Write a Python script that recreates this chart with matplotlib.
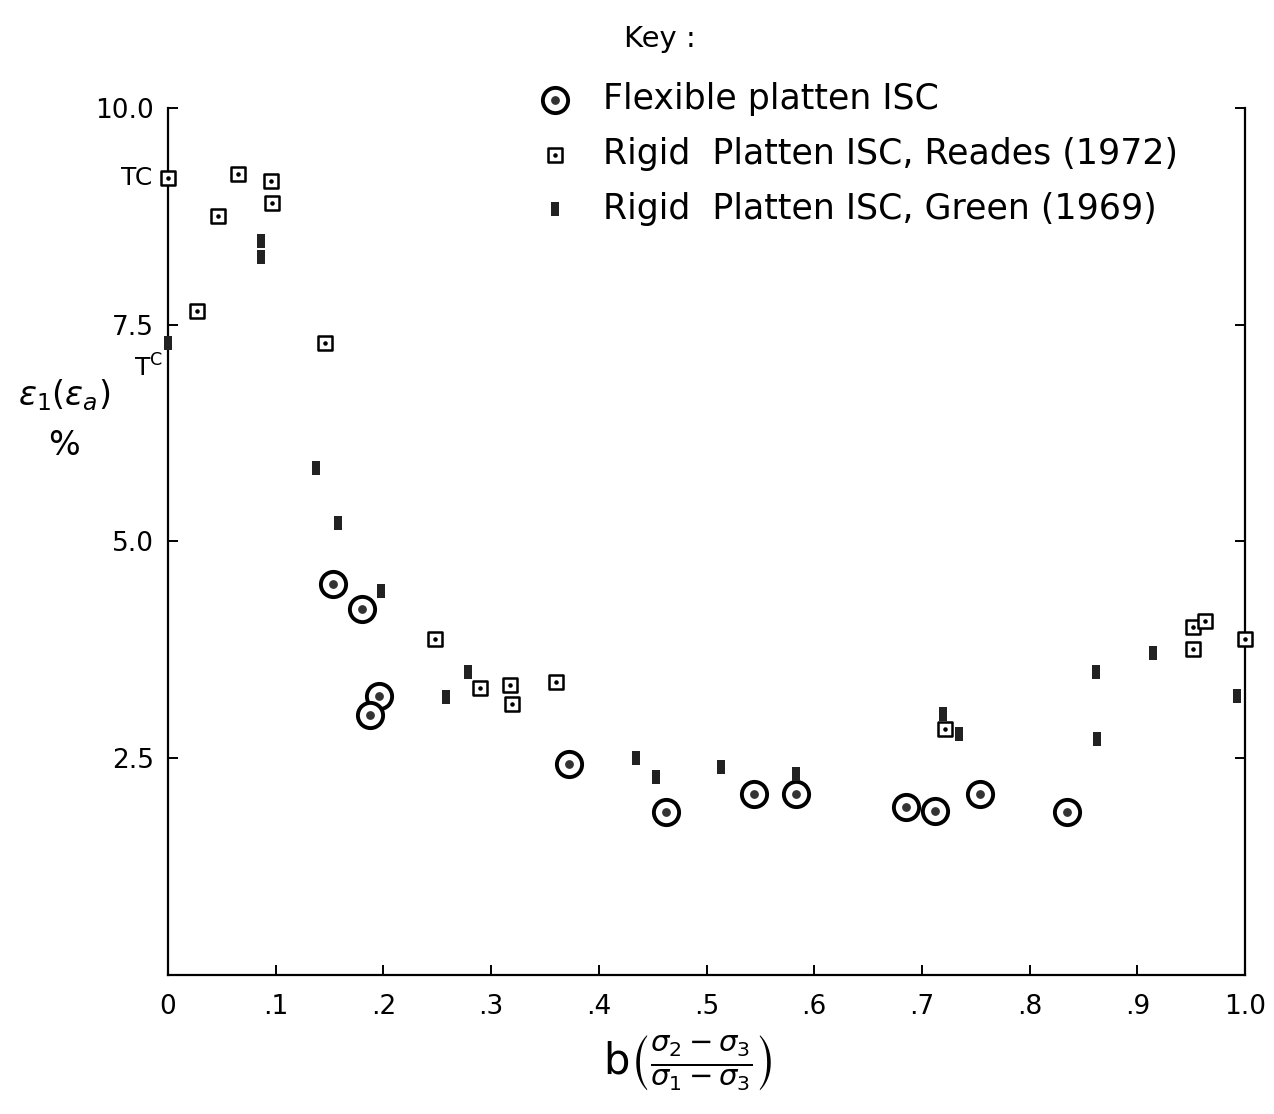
import matplotlib.pyplot as plt
from matplotlib.legend_handler import HandlerTuple

# data
flex_b = [0.153, 0.180, 0.196, 0.188, 0.372, 0.462, 0.544, 0.583, 0.685, 0.712, 0.754, 0.835]
flex_e = [4.51, 4.22, 3.22, 3.00, 2.43, 1.88, 2.09, 2.09, 1.94, 1.89, 2.09, 1.88]

reades_b = [0.0, 0.027, 0.046, 0.065, 0.096, 0.097, 0.146, 0.248, 0.290, 0.318,
            0.319, 0.360, 0.721, 0.952, 0.952, 0.963, 1.0]
reades_e = [9.19, 7.66, 8.75, 9.24, 9.16, 8.90, 7.29, 3.88, 3.31, 3.34,
            3.13, 3.38, 2.84, 3.76, 4.01, 4.08, 3.88]

green_b = [0.0, 0.086, 0.086, 0.137, 0.158, 0.198, 0.258, 0.279, 0.435, 0.453,
           0.513, 0.583, 0.720, 0.734, 0.862, 0.863, 0.915, 0.993]
green_e = [7.29, 8.47, 8.28, 5.85, 5.21, 4.43, 3.21, 3.49, 2.50, 2.28,
           2.40, 2.32, 3.01, 2.78, 3.49, 2.72, 3.71, 3.22]

xticks = [0, 0.1, 0.2, 0.3, 0.4, 0.5, 0.6, 0.7, 0.8, 0.9, 1.0]
xticklabels = ['0', '.1', '.2', '.3', '.4', '.5', '.6', '.7', '.8', '.9', '1.0']
yticks = [2.5, 5.0, 7.5, 10.0]
yticklabels = ['2.5', '5.0', '7.5', '10.0']

fig = plt.figure(figsize=(12.74, 11.14), dpi=100)
ax = fig.add_axes([168/1274, 1 - 975/1114, (1245 - 168)/1274, (975 - 108)/1114])
ax.set_xlim(0, 1.0)
ax.set_ylim(0, 10.0)

# vertical bar marker for Green (1969)
bar = [(-0.5, -1), (0.5, -1), (0.5, 1), (-0.5, 1), (-0.5, -1)]

ring = ax.scatter(flex_b, flex_e, s=330, facecolor='white', edgecolor='black',
                  linewidth=2.8, zorder=3, clip_on=False)
ring_dot = ax.scatter(flex_b, flex_e, s=28, color='#333333', zorder=4, clip_on=False)
sq = ax.scatter(reades_b, reades_e, s=110, marker='s', facecolor='white',
                edgecolor='black', linewidth=1.8, zorder=3, clip_on=False)
sq_dot = ax.scatter(reades_b, reades_e, s=5, color='black', zorder=4, clip_on=False)
gr = ax.scatter(green_b, green_e, s=110, marker=bar, color='#222222',
                linewidth=0, zorder=3, clip_on=False)

ax.spines['top'].set_visible(False)
for s in ['left', 'right', 'bottom']:
    ax.spines[s].set_linewidth(1.6)

ax.set_xticks(xticks)
ax.set_xticklabels(xticklabels)
ax.set_yticks(yticks)
ax.set_yticklabels(yticklabels)
ax.tick_params(axis='both', direction='in', length=7, width=1.4, labelsize=19)
ax.tick_params(axis='x', pad=14)
ax.tick_params(axis='y', right=True, pad=10)

ax.text(-0.015, 9.19, 'TC', ha='right', va='center', fontsize=18)
ax.text(-0.005, 7.0, 'T$^{\\mathrm{C}}$', ha='right', va='center', fontsize=18)

fig.text(0.05, 0.645, r'$\epsilon_1(\epsilon_a)$', ha='center', va='center', fontsize=24)
fig.text(0.05, 0.600, '%', ha='center', va='center', fontsize=24)
fig.text(0.54, 0.045, r'$\mathrm{b}\left(\frac{\sigma_2-\sigma_3}{\sigma_1-\sigma_3}\right)$',
         ha='center', va='center', fontsize=30)

fig.text(0.518, 0.965, 'Key :', ha='center', va='center', fontsize=21)
fig.legend([(ring, ring_dot), (sq, sq_dot), gr],
           ['Flexible platten ISC', 'Rigid  Platten ISC, Reades (1972)',
            'Rigid  Platten ISC, Green (1969)'],
           handler_map={tuple: HandlerTuple(ndivide=1, pad=0)},
           loc='upper left', bbox_to_anchor=(0.411, 0.939), frameon=False,
           fontsize=25, handlelength=1.0, handletextpad=0.9, labelspacing=0.6,
           borderaxespad=0)

fig.savefig('out.png', dpi=100)
